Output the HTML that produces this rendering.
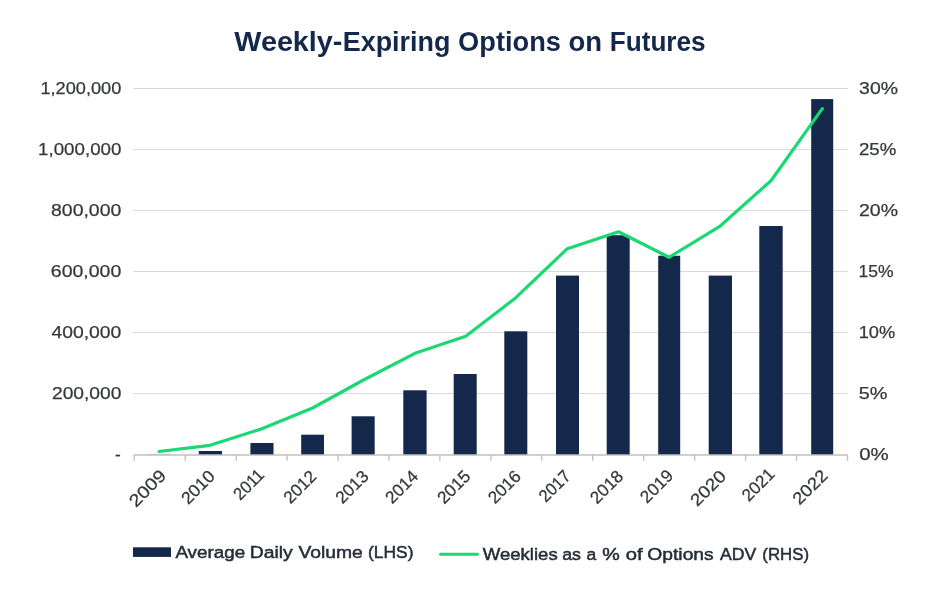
<!DOCTYPE html>
<html>
<head>
<meta charset="utf-8">
<title>Weekly-Expiring Options on Futures</title>
<style>
  html, body { margin: 0; padding: 0; background: #ffffff; }
  body { width: 940px; height: 600px; overflow: hidden; font-family: "Liberation Sans", sans-serif; }
  svg { display: block; will-change: transform; }
  text { font-family: "Liberation Sans", sans-serif; }
  .title { font-size: 27.4px; font-weight: bold; fill: #14284b; }
  .ax { font-size: 17.2px; fill: #35383b; stroke: #35383b; stroke-width: 0.25px; }
  .lg { font-size: 17.2px; fill: #262d37; stroke: #262d37; stroke-width: 0.5px; }
</style>
</head>
<body>
<svg width="940" height="600" viewBox="0 0 940 600">
  <rect x="0" y="0" width="940" height="600" fill="#ffffff"/>

  <!-- gridlines -->
  <g stroke="#dadada" stroke-width="1.2">
    <line x1="133.5" y1="88.5" x2="847.8" y2="88.5"/>
    <line x1="133.5" y1="149.5" x2="847.8" y2="149.5"/>
    <line x1="133.5" y1="210.5" x2="847.8" y2="210.5"/>
    <line x1="133.5" y1="271.5" x2="847.8" y2="271.5"/>
    <line x1="133.5" y1="332.5" x2="847.8" y2="332.5"/>
    <line x1="133.5" y1="393.5" x2="847.8" y2="393.5"/>
  </g>
  <!-- bars -->
  <g fill="#14284b">
    <rect x="148.5" y="453.8" width="22.5" height="1.2" fill="#c9ccd2"/>
    <rect x="198.8" y="451.0" width="23.2" height="4.0"/>
    <rect x="250.4" y="443.0" width="23.1" height="12.0"/>
    <rect x="301.2" y="434.7" width="22.8" height="20.3"/>
    <rect x="351.6" y="416.3" width="23.1" height="38.7"/>
    <rect x="403.3" y="390.3" width="23.3" height="64.7"/>
    <rect x="453.7" y="374.0" width="23.0" height="81.0"/>
    <rect x="504.3" y="331.3" width="23.0" height="123.7"/>
    <rect x="556.0" y="275.6" width="23.0" height="179.4"/>
    <rect x="606.7" y="235.2" width="23.0" height="219.8"/>
    <rect x="658.2" y="255.7" width="22.0" height="199.3"/>
    <rect x="708.7" y="275.6" width="23.3" height="179.4"/>
    <rect x="759.3" y="226.0" width="23.4" height="229.0"/>
    <rect x="811.2" y="99.1" width="22.0" height="355.9"/>
  </g>
  <!-- x axis -->
  <g stroke="#c1c1c1" stroke-width="1.4" fill="none">
    <line x1="133.6" y1="455.0" x2="847.9" y2="455.0"/>
    <path d="M134.3 455.0v5.7 M185.2 455.0v5.7 M236.2 455.0v5.7 M287.1 455.0v5.7 M338.1 455.0v5.7 M389.0 455.0v5.7 M439.9 455.0v5.7 M490.9 455.0v5.7 M541.8 455.0v5.7 M592.8 455.0v5.7 M643.7 455.0v5.7 M694.6 455.0v5.7 M745.6 455.0v5.7 M796.5 455.0v5.7 M847.5 455.0v5.7"/>
  </g>
  <!-- line -->
  <polyline fill="none" stroke="#1bd873" stroke-width="3.2" stroke-linejoin="round" stroke-linecap="round" points="159,451.5 210,445.3 261.2,429 312.6,408 363.5,380 415,353.3 465.7,336.3 515.8,297.7 567.3,248.7 618.5,231.8 669,257.3 719.4,226.7 771,180.7 822.3,108.6"/>
  <!-- x labels -->
  <g class="ax">
    <text transform="translate(167.2 476.7) rotate(-45)" x="-44.2" textLength="44.2" lengthAdjust="spacingAndGlyphs">2009</text>
    <text transform="translate(216.0 477.4) rotate(-45)" x="-39.4" textLength="39.4" lengthAdjust="spacingAndGlyphs">2010</text>
    <text transform="translate(265.3 475.9) rotate(-45)" x="-35.6" textLength="35.6" lengthAdjust="spacingAndGlyphs">2011</text>
    <text transform="translate(317.6 477.4) rotate(-45)" x="-38.5" textLength="38.5" lengthAdjust="spacingAndGlyphs">2012</text>
    <text transform="translate(369.7 477.4) rotate(-45)" x="-38.5" textLength="38.5" lengthAdjust="spacingAndGlyphs">2013</text>
    <text transform="translate(419.4 477.4) rotate(-45)" x="-38.5" textLength="38.5" lengthAdjust="spacingAndGlyphs">2014</text>
    <text transform="translate(471.7 477.3) rotate(-45)" x="-38.8" textLength="38.8" lengthAdjust="spacingAndGlyphs">2015</text>
    <text transform="translate(522.1 477.4) rotate(-45)" x="-38.5" textLength="38.5" lengthAdjust="spacingAndGlyphs">2016</text>
    <text transform="translate(571.6 477.3) rotate(-45)" x="-36.4" textLength="36.4" lengthAdjust="spacingAndGlyphs">2017</text>
    <text transform="translate(624.3 477.4) rotate(-45)" x="-38.6" textLength="38.6" lengthAdjust="spacingAndGlyphs">2018</text>
    <text transform="translate(674.3 476.7) rotate(-45)" x="-38.5" textLength="38.5" lengthAdjust="spacingAndGlyphs">2019</text>
    <text transform="translate(727.1 477.4) rotate(-45)" x="-42.2" textLength="42.2" lengthAdjust="spacingAndGlyphs">2020</text>
    <text transform="translate(775.8 475.2) rotate(-45)" x="-38.4" textLength="38.4" lengthAdjust="spacingAndGlyphs">2021</text>
    <text transform="translate(828.7 476.7) rotate(-45)" x="-41.2" textLength="41.2" lengthAdjust="spacingAndGlyphs">2022</text>
  </g>
  <!-- text -->
  <text class="title" x="234.3" y="51.0" textLength="108.1" lengthAdjust="spacingAndGlyphs">Weekly-</text>
  <text class="title" x="342.8" y="51.0" textLength="107.6" lengthAdjust="spacingAndGlyphs">Expiring</text>
  <text class="title" x="458.1" y="51.0" textLength="102.9" lengthAdjust="spacingAndGlyphs">Options</text>
  <text class="title" x="568.4" y="51.0" textLength="33.6" lengthAdjust="spacingAndGlyphs">on</text>
  <text class="title" x="609.7" y="51.0" textLength="96.0" lengthAdjust="spacingAndGlyphs">Futures</text>
  <text class="ax" x="40.4" y="94.2" textLength="80.9" lengthAdjust="spacingAndGlyphs">1,200,000</text>
  <text class="ax" x="38.1" y="155.2" textLength="83.3" lengthAdjust="spacingAndGlyphs">1,000,000</text>
  <text class="ax" x="51.0" y="216.2" textLength="70.3" lengthAdjust="spacingAndGlyphs">800,000</text>
  <text class="ax" x="50.8" y="277.2" textLength="70.5" lengthAdjust="spacingAndGlyphs">600,000</text>
  <text class="ax" x="51.4" y="338.2" textLength="69.9" lengthAdjust="spacingAndGlyphs">400,000</text>
  <text class="ax" x="52.0" y="399.2" textLength="69.4" lengthAdjust="spacingAndGlyphs">200,000</text>
  <text class="ax" x="859.1" y="94.2" textLength="38.9" lengthAdjust="spacingAndGlyphs">30%</text>
  <text class="ax" x="859.0" y="155.2" textLength="37.3" lengthAdjust="spacingAndGlyphs">25%</text>
  <text class="ax" x="859.0" y="216.2" textLength="39.0" lengthAdjust="spacingAndGlyphs">20%</text>
  <text class="ax" x="858.6" y="277.2" textLength="35.1" lengthAdjust="spacingAndGlyphs">15%</text>
  <text class="ax" x="858.7" y="338.2" textLength="36.6" lengthAdjust="spacingAndGlyphs">10%</text>
  <text class="ax" x="858.8" y="399.2" textLength="28.7" lengthAdjust="spacingAndGlyphs">5%</text>
  <text class="ax" x="859.2" y="460.2" textLength="29.5" lengthAdjust="spacingAndGlyphs">0%</text>
  <text class="lg" x="175.4" y="557.5" textLength="69.8" lengthAdjust="spacingAndGlyphs">Average</text>
  <text class="lg" x="249.8" y="557.5" textLength="43.0" lengthAdjust="spacingAndGlyphs">Daily</text>
  <text class="lg" x="298.4" y="557.5" textLength="64.4" lengthAdjust="spacingAndGlyphs">Volume</text>
  <text class="lg" x="368.0" y="557.5" textLength="45.5" lengthAdjust="spacingAndGlyphs">(LHS)</text>
  <text class="lg" x="482.7" y="560.1" textLength="75.0" lengthAdjust="spacingAndGlyphs">Weeklies</text>
  <text class="lg" x="562.2" y="560.1" textLength="18.8" lengthAdjust="spacingAndGlyphs">as</text>
  <text class="lg" x="586.6" y="560.1" textLength="9.7" lengthAdjust="spacingAndGlyphs">a</text>
  <text class="lg" x="602.2" y="560.1" textLength="17.5" lengthAdjust="spacingAndGlyphs">%</text>
  <text class="lg" x="625.7" y="560.1" textLength="16.9" lengthAdjust="spacingAndGlyphs">of</text>
  <text class="lg" x="647.3" y="560.1" textLength="66.4" lengthAdjust="spacingAndGlyphs">Options</text>
  <text class="lg" x="720.0" y="560.1" textLength="36.2" lengthAdjust="spacingAndGlyphs">ADV</text>
  <text class="lg" x="762.3" y="560.1" textLength="46.7" lengthAdjust="spacingAndGlyphs">(RHS)</text>
  <text class="ax" x="120.8" y="460.2" text-anchor="end">-</text>
  <!-- legend -->
  <rect x="133" y="547.3" width="38" height="9.6" fill="#14284b"/>
  <line x1="440.5" y1="554.3" x2="477.4" y2="554.3" stroke="#1bd873" stroke-width="3" stroke-linecap="round"/>
</svg>
</body>
</html>
